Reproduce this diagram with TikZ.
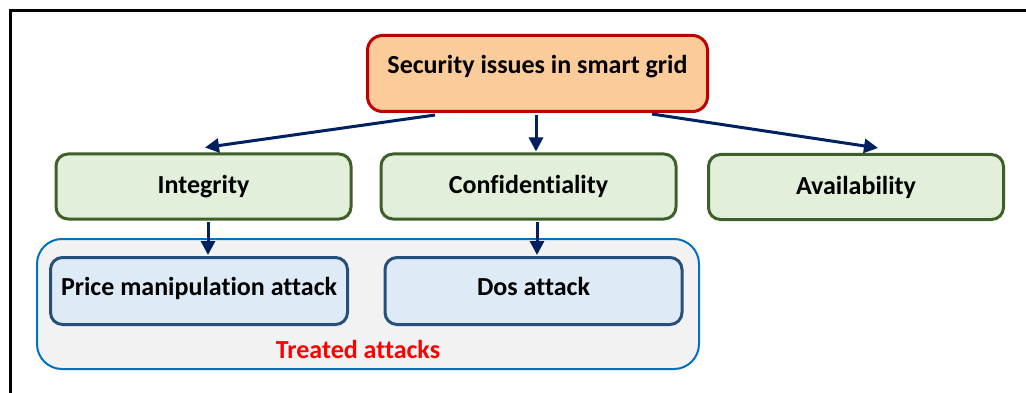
\documentclass[tikz,border=0pt]{standalone}
\usepackage{fontspec}
\setmainfont[Ligatures=NoCommon]{Carlito}
\usetikzlibrary{arrows.meta}

\definecolor{topfill}{HTML}{FCCB9A}
\definecolor{topline}{HTML}{C00000}
\definecolor{propfill}{HTML}{E2EFDA}
\definecolor{propline}{HTML}{3F5F2A}
\definecolor{atkfill}{HTML}{DEEBF7}
\definecolor{atkline}{HTML}{26507A}
\definecolor{grpfill}{HTML}{F2F2F2}
\definecolor{grpline}{HTML}{0070C0}
\definecolor{arrowblue}{HTML}{002060}

\begin{document}
\begin{tikzpicture}[x=1pt,y=-1pt,
		every node/.style={font=\fontsize{26}{30}\selectfont\bfseries},
		issue/.style={draw=topline,fill=topfill,line width=3pt,rounded corners=15pt,
			minimum width=340pt,minimum height=76pt,text depth=19pt},
		prop/.style={draw=propline,fill=propfill,line width=3pt,rounded corners=12pt,
			minimum width=295pt,minimum height=65pt},
		atk/.style={draw=atkline,fill=atkfill,line width=3pt,rounded corners=12pt,
			minimum width=297pt,minimum height=67pt,text depth=10pt},
		link/.style={draw=arrowblue,line width=3pt,-{Triangle[length=14pt,width=14pt]}}]
	\useasboundingbox (0,0) rectangle (1026,393);
	\draw[line width=3pt] (10,393) -- (10,11) -- (1026,11);
	% group of treated attacks
	\node[draw=grpline,fill=grpfill,line width=2pt,rounded corners=25pt,
		minimum width=662pt,minimum height=130pt] (treated) at (368,304) {};
	\node[text=red] (treatedlbl) at (358,349) {Treated attacks};
	% boxes
	\node[issue] (top) at (537.5,73.5) {Security issues in smart grid};
	\node[prop] (integ) at (203.5,186.5) {Integrity};
	\node[prop] (conf) at (528.5,186.5) {Confidentiality};
	\node[prop] (avail) at (856,187) {Availability};
	\node[atk] (price) at (199,291) {Price manipulation attack};
	\node[atk] (dos) at (533.5,291) {Dos attack};
	% arrows
	\draw[link] ([xshift=-102.5pt,yshift=-2pt]top.south) -- ([xshift=1.5pt,yshift=5pt]integ.north);
	\draw[link] ([xshift=-1.5pt,yshift=-2pt]top.south) -- ([xshift=7.5pt,yshift=1pt]conf.north);
	\draw[link] ([xshift=114.5pt,yshift=-1pt]top.south) -- ([xshift=22pt,yshift=5pt]avail.north);
	\draw[link] ([xshift=4.5pt,yshift=-1.5pt]integ.south) -- ([xshift=9pt,yshift=1pt]price.north);
	\draw[link] ([xshift=8.5pt,yshift=-1.5pt]conf.south) -- ([xshift=3.5pt,yshift=1pt]dos.north);
\end{tikzpicture}
\end{document}
